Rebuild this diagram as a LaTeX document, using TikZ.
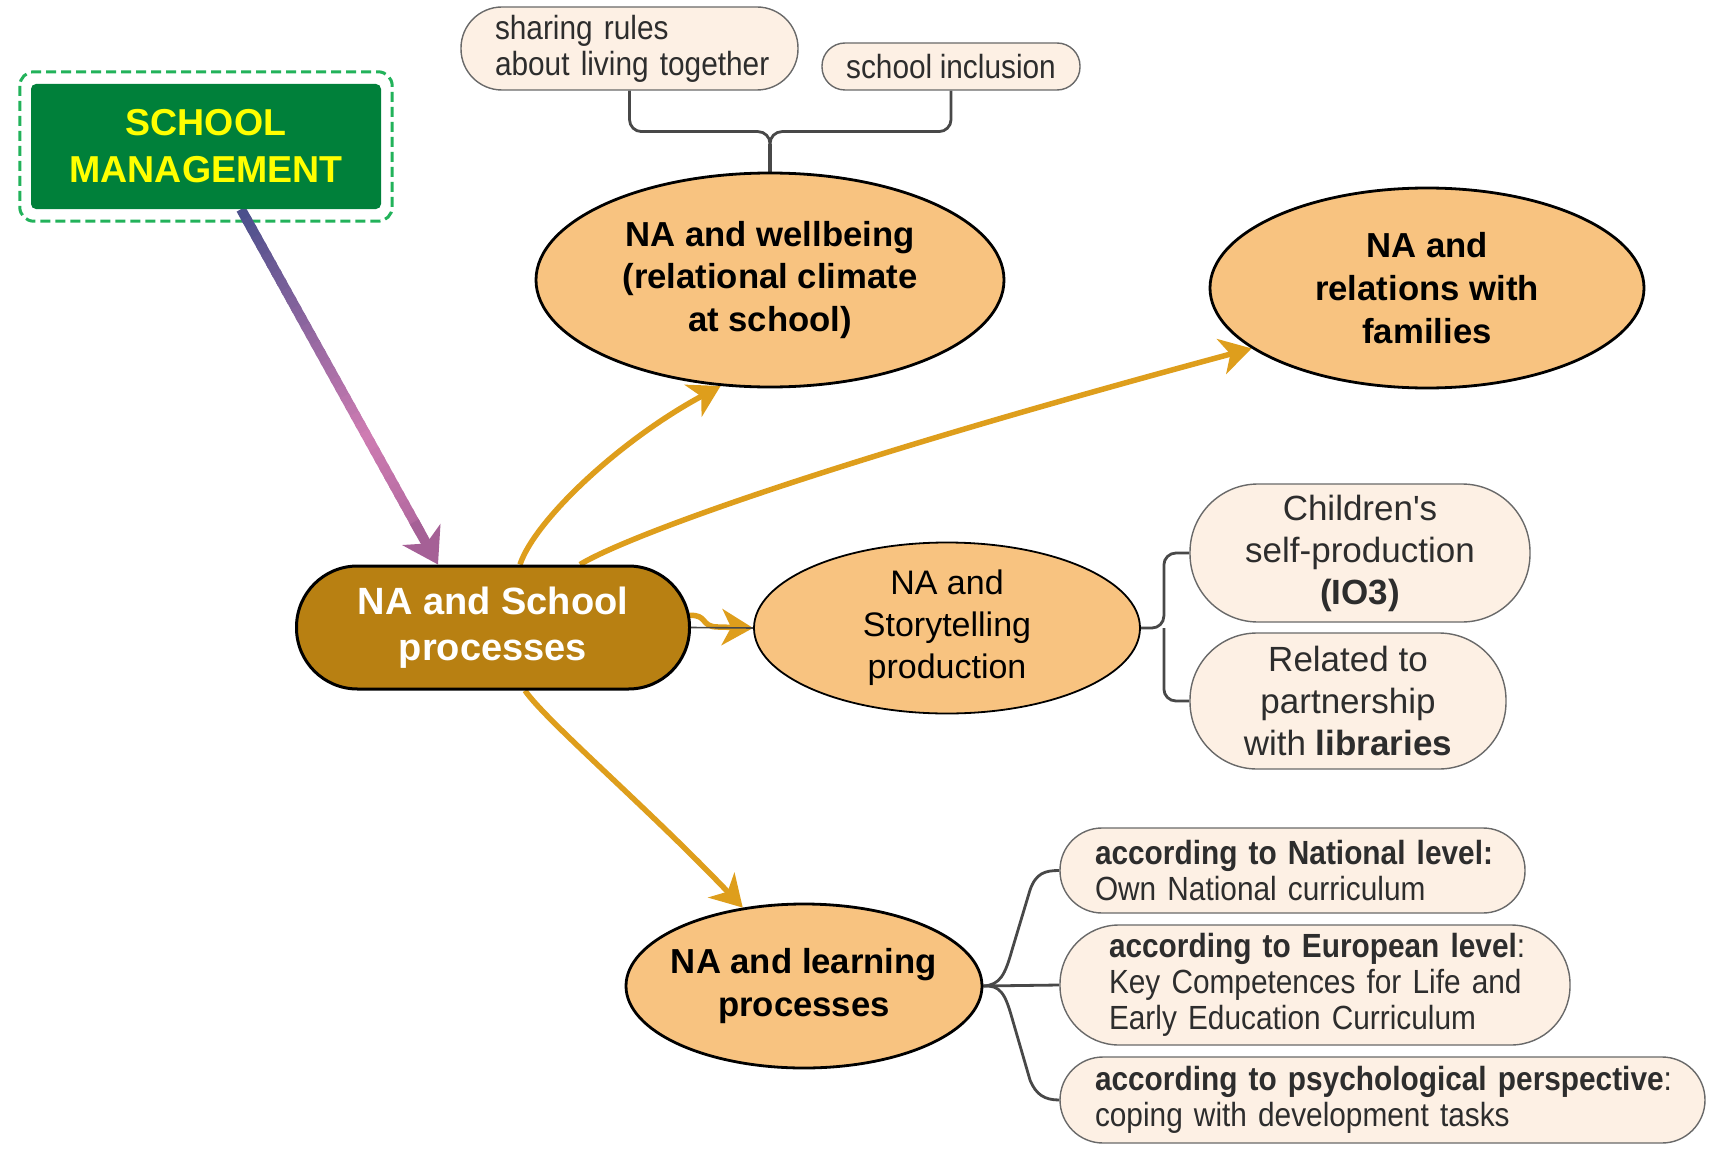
\documentclass[tikz,border=0pt]{standalone}
\usepackage{fontspec}
\setmainfont{Liberation Sans}
\newfontfamily\narrowsf[FakeStretch=0.89,WordSpace=0.9]{Liberation Sans}
\usetikzlibrary{shapes.geometric,arrows.meta,calc}

\definecolor{boxgreen}{RGB}{0,128,58}
\definecolor{dashgreen}{RGB}{34,178,90}
\definecolor{signyellow}{RGB}{255,255,0}
\definecolor{hubbrown}{RGB}{184,128,18}
\definecolor{topicorange}{RGB}{248,195,128}
\definecolor{leafcream}{RGB}{253,240,228}
\definecolor{leafline}{RGB}{105,105,105}
\definecolor{leaftext}{RGB}{45,45,45}
\definecolor{linkgray}{RGB}{72,72,72}
\definecolor{arrowgold}{RGB}{222,158,28}
\definecolor{mgA}{RGB}{76,80,140}
\definecolor{mgB}{RGB}{206,124,178}
\definecolor{mgC}{RGB}{165,96,150}

\pgfdeclarelayer{bg}
\pgfsetlayers{bg,main}

\begin{document}
\begin{tikzpicture}[x=1pt,y=-1pt,
  topic/.style={ellipse, draw=black, line width=2.8pt, fill=topicorange,
    inner sep=0pt, align=center, font=\bfseries\fontsize{34.7}{42.6}\selectfont},
  leaf/.style={rectangle, draw=leafline, line width=1.4pt, fill=leafcream, text=leaftext},
  leafwide/.style={leaf, inner ysep=2pt, font=\fontsize{35}{42}\selectfont, align=center},
  leafnarrow/.style={leaf, inner ysep=2pt, font=\narrowsf\fontsize{33.5}{36}\selectfont, align=left},
  link/.style={draw=linkgray, line width=2.8pt},
  flow/.style={draw=arrowgold, line width=5.5pt, -{Stealth[length=31pt,width=36pt,inset=9pt]}},
]
\useasboundingbox (0,0) rectangle (1716,1153);

% ---- management box ----
\node[rectangle, rounded corners=5pt, fill=boxgreen, minimum width=350pt, minimum height=125pt,
      text=signyellow, align=center, font=\bfseries\fontsize{37.5}{47}\selectfont]
  (sm) at (206,146.5) {SCHOOL\\MANAGEMENT};

% ---- central hub ----
\node[rectangle, rounded corners=61pt, draw=black, line width=3pt, fill=hubbrown, text=white,
      minimum width=393pt, minimum height=123pt, align=center,
      font=\bfseries\fontsize{38}{46}\selectfont]
  (sp) at (493,627.5) {NA and School\\processes};

% ---- topics ----
\node[topic, minimum width=468pt, minimum height=214pt] (wb) at (770,280)
  {NA and wellbeing\\(relational climate\\at school)};
\node[topic, minimum width=434pt, minimum height=200pt] (fam) at (1427,288)
  {NA and\\relations with\\families};
\node[topic, line width=1.8pt, minimum width=386pt, minimum height=171pt,
      font=\fontsize{34}{42}\selectfont] (st) at (947,628)
  {NA and\\Storytelling\\production};
\node[topic, inner xsep=-12pt, minimum width=356pt, minimum height=164pt] (lp) at (804,986)
  {NA and learning\\processes};

% ---- leaves ----
\node[leafnarrow, rounded corners=41pt, minimum height=83pt, text width=269pt, inner xsep=34pt]
  (t1) at (629.5,48.5) {\mbox{sharing rules}\\\mbox{about living together}};
\node[leafnarrow, rounded corners=23pt, minimum width=258pt, minimum height=47pt, align=center]
  (t2) at (951,66.5) {school inclusion};

\node[leafwide, rounded corners=68pt, minimum width=340pt, minimum height=138pt]
  (c1) at (1360,553) {Children\textquotesingle s\\self-production\\\textbf{(IO3)}};
\node[leafwide, rounded corners=67pt, minimum width=316pt, minimum height=136pt]
  (c2) at (1348,701) {Related to\\partnership\\with \textbf{libraries}};

\node[leafnarrow, rounded corners=42pt, minimum height=85pt, text width=395pt, inner xsep=35pt]
  (l1) at (1292.5,870.5)
  {\mbox{\bfseries according to National level:}\\\mbox{Own National curriculum}};
\node[leafnarrow, rounded corners=59pt, minimum height=120pt, text width=412pt, inner xsep=49pt]
  (l2) at (1315,985)
  {\mbox{\textbf{according to European level}:}\\\mbox{Key Competences for Life and}\\\mbox{Early Education Curriculum}};
\node[leafnarrow, rounded corners=43pt, minimum height=86pt, text width=575pt, inner xsep=35pt]
  (l3) at (1382.5,1100)
  {\mbox{\textbf{according to psychological perspective}:}\\\mbox{coping with development tasks}};

\begin{pgfonlayer}{bg}
  % dashed frame round the management box
  \draw[dashgreen, line width=3pt, dash pattern=on 10pt off 5pt, rounded corners=14pt]
    ($(sm.north west)+(-11,-12)$) rectangle ($(sm.south east)+(11,12)$);

  % management -> hub, colour running along the stroke
  \coordinate (mgs) at ($(sm.south)+(35,0)$);
  \coordinate (mge) at ($(sp.north)+(-55,0)$);
  \foreach \i in {0,...,35} {
    \pgfmathsetmacro{\ta}{\i/40}
    \pgfmathsetmacro{\tb}{(\i+1.4)/40}
    \pgfmathtruncatemacro{\pa}{min(100,\ta/0.62*100)}
    \pgfmathtruncatemacro{\pb}{max(0,(\ta-0.62)/0.38*100)}
    \colorlet{segtmp}{mgB!\pa!mgA}
    \colorlet{segcol}{mgC!\pb!segtmp}
    \draw[segcol, line width=10pt] ($(mgs)!\ta!(mge)$) -- ($(mgs)!\tb!(mge)$);
  }
  \draw[mgC, line width=10pt, -{Stealth[length=34pt,width=43pt,inset=10pt]}]
    ($(mgs)!0.88!(mge)$) -- (mge);

  % hub -> topics
  \draw[flow] ($(sp.north)+(27,0)$) .. controls (535,520) and (620,440) .. (wb.-115);
  \draw[flow] ($(sp.north)+(87,0)$) .. controls (620,540) and (800,470) .. (fam.-161);
  \draw[flow] ($(sp.south)+(32,0)$) .. controls (545,720) and (650,810) .. (lp.128);
  \draw[flow] ($(sp.east)+(-2,-12)$) .. controls (708,614) and (700,627) .. (718,627) -- (st.west);
  \draw[link, line width=1.6pt] (sp.east) -- (st.west);

  % wellbeing branches
  \coordinate (wbj) at ($(wb.north)+(0,-40)$);
  \draw[link, rounded corners=12pt] (t1.south) |- (wbj) -- (wb.north);
  \draw[link, rounded corners=12pt] (t2.south) |- (wbj) -- (wb.north);
  \draw[link, line width=4.5pt] ($(wbj)+(0,12)$) -- (wb.north);

  % storytelling branches
  \coordinate (stj) at ($(st.east)+(23,0)$);
  \draw[link, rounded corners=12pt] (st.east) -- (stj) |- (c1.west);
  \draw[link, rounded corners=12pt] (stj) |- (c2.west);

  % learning branches
  \draw[link] (lp.east) -- (l2.west);
  \draw[link] (lp.east) .. controls (1000,985) and (1005,975) .. (1012,950)
    -- (1030,890) .. controls (1036,873) and (1045,870.5) .. (l1.west);
  \draw[link] (lp.east) .. controls (1000,985) and (1005,993) .. (1012,1018)
    -- (1030,1080) .. controls (1036,1095) and (1045,1100) .. (l3.west);
\end{pgfonlayer}
\end{tikzpicture}
\end{document}
